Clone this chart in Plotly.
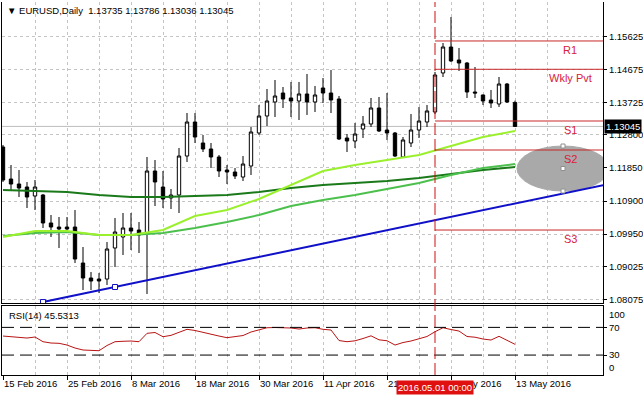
import plotly.graph_objects as go

# ---------------- data ----------------
tick_idx = [0, 8, 16, 24, 32, 40, 48, 56, 64]
tick_text = ["15 Feb 2016", "25 Feb 2016", "8 Mar 2016", "18 Mar 2016", "30 Mar 2016",
             "11 Apr 2016", "21 Apr 2016", "3 May 2016", "13 May 2016"]

open_ = [1.12453, 1.11533, 1.11389, 1.11303, 1.11044, 1.11073, 1.10268, 1.10152, 1.10152, 1.10152,
         1.09117, 1.08686, 1.08657, 1.08657, 1.09549, 1.09865, 1.10124, 1.10066, 1.09980, 1.11763,
         1.11303, 1.10987, 1.11073, 1.12194, 1.13172, 1.12568, 1.12396, 1.12166, 1.11792, 1.11734,
         1.11590, 1.11907, 1.12856, 1.13345, 1.13747, 1.14006, 1.13863, 1.13776, 1.13978, 1.13747,
         1.14150, 1.14006, 1.13834, 1.12712, 1.12626, 1.12971, 1.13115, 1.13575, 1.12942, 1.12856,
         1.12166, 1.12568, 1.12942, 1.13172, 1.13460, 1.14582, 1.15329, 1.14955, 1.14869, 1.14035,
         1.13949, 1.13805, 1.13690, 1.14265, 1.13735]
high = [1.12511, 1.11936, 1.11792, 1.11447, 1.11504, 1.11100, 1.10498, 1.10440, 1.10440, 1.10641,
        1.09577, 1.08858, 1.08830, 1.09721, 1.10411, 1.10555, 1.10555, 1.10296, 1.12166, 1.12079,
        1.11763, 1.11245, 1.12425, 1.13431, 1.13431, 1.12798, 1.12568, 1.12223, 1.11936, 1.11849,
        1.12194, 1.13028, 1.13661, 1.14121, 1.14380, 1.14179, 1.14323, 1.14323, 1.14553, 1.14208,
        1.14438, 1.14668, 1.13920, 1.12827, 1.13144, 1.13345, 1.13863, 1.13891, 1.14006, 1.12885,
        1.12741, 1.13402, 1.13604, 1.13661, 1.14610, 1.15444, 1.16192, 1.15301, 1.14898, 1.14754,
        1.13960, 1.14093, 1.14466, 1.14294, 1.13786]
low = [1.11447, 1.11217, 1.11015, 1.10699, 1.10641, 1.10124, 1.09865, 1.09549, 1.09980, 1.09117,
       1.08341, 1.08341, 1.08254, 1.08484, 1.09002, 1.09347, 1.09491, 1.09405, 1.08226, 1.10756,
       1.10699, 1.10670, 1.10555, 1.12022, 1.12568, 1.12309, 1.11849, 1.11590, 1.11389, 1.11533,
       1.11475, 1.11648, 1.12798, 1.13057, 1.13316, 1.13575, 1.13316, 1.13230, 1.13374, 1.13460,
       1.13719, 1.13431, 1.12655, 1.12309, 1.12425, 1.12712, 1.13028, 1.12885, 1.12655, 1.12166,
       1.12137, 1.12453, 1.12712, 1.13028, 1.13402, 1.14466, 1.14898, 1.14639, 1.13863, 1.13863,
       1.13661, 1.13575, 1.13604, 1.13719, 1.13036]
close = [1.11504, 1.11389, 1.11274, 1.11015, 1.11303, 1.10268, 1.10152, 1.10095, 1.10095, 1.09232,
         1.08686, 1.08599, 1.08599, 1.09520, 1.10009, 1.10124, 1.10037, 1.09922, 1.11763, 1.11447,
         1.10958, 1.11073, 1.12194, 1.13172, 1.12741, 1.12396, 1.12166, 1.11763, 1.11734, 1.11619,
         1.11964, 1.12885, 1.13345, 1.13776, 1.13920, 1.13834, 1.13776, 1.13978, 1.13747, 1.13949,
         1.14006, 1.13805, 1.12683, 1.12626, 1.12827, 1.13115, 1.13575, 1.12913, 1.12856, 1.12194,
         1.12655, 1.12942, 1.13201, 1.13489, 1.14524, 1.15329, 1.14927, 1.14869, 1.14035, 1.14006,
         1.13776, 1.13719, 1.14265, 1.13747, 1.13045]

ma_idx = [0, 4, 8, 12, 16, 20, 24, 28, 32, 36, 40, 44, 48, 52, 56, 60, 64]
ma_fast = [1.09865, 1.10037, 1.10037, 1.09922, 1.09922, 1.10066, 1.10469, 1.10641, 1.10958,
           1.11360, 1.11763, 1.11936, 1.12079, 1.12223, 1.12482, 1.12741, 1.12913]
ma_mid = [1.09894, 1.09980, 1.10009, 1.09922, 1.09922, 1.09980, 1.10124, 1.10296, 1.10498,
          1.10756, 1.10929, 1.11073, 1.11245, 1.11418, 1.11648, 1.11849, 1.11964]
ma_slow = [1.11217, 1.11188, 1.11159, 1.11073, 1.11015, 1.11015, 1.11044, 1.11073, 1.11159,
           1.11274, 1.11360, 1.11418, 1.11475, 1.11562, 1.11677, 1.11792, 1.11878]

rsi = [57.5, 56.8, 56.1, 54.6, 56.1, 49.3, 47.4, 47.0, 44.5, 40.2,
       37.3, 36.8, 36.3, 43.8, 49.3, 49.9, 50.3, 49.3, 61.4, 62.6,
       56.5, 58.5, 63.3, 67.2, 65.5, 62.6, 59.7, 57.5, 55.1, 56.8,
       58.2, 63.3, 66.9, 69.5, 69.8, 69.5, 69.1, 67.6, 69.1, 69.5,
       67.2, 66.2, 51.0, 49.3, 50.6, 53.9, 57.8, 52.0, 50.7, 44.5,
       48.1, 50.3, 53.6, 56.8, 63.7, 69.5, 66.9, 64.7, 56.8, 55.8,
       53.2, 51.7, 57.1, 51.7, 45.5313]
rsi_levels = [70, 30]
rsi_top_label = "100"
rsi_bottom_label = "0"

pivot_names = ["R1", "Wkly Pvt", "S1", "S2", "S3"]
pivot_levels = [1.15502, 1.14688, 1.13201, 1.12367, 1.10066]

trend_idx = [5, 14]
trend_price = [1.07995, 1.08427]

vline_idx = 54
vline_label = "2016.05.01 00:00"
ellipse_x = [64.25, 75.75]
ellipse_y = [1.11188, 1.12482]

price_ticks = [1.15625, 1.14675, 1.13725, 1.12800, 1.11850, 1.10900, 1.09950, 1.09025, 1.08075]
price_text = ["1.15625", "1.14675", "1.13725", "1.12800", "1.11850", "1.10900", "1.09950", "1.09025", "1.08075"]
last_price = 1.13045
last_price_text = "1.13045"
title = "▼ EURUSD,Daily  1.13735 1.13786 1.13036 1.13045"
rsi_title = "RSI(14) 45.5313"

# ---------------- figure ----------------
X_RANGE = [-0.125, 75]
RSI_RANGE = [1.2, 100.9]
FONT = "Liberation Sans"
TICKFONT = dict(family=FONT, size=9.5, color="black")
idx = list(range(len(close)))
minor_idx = [v for v in range(4, 76, 8)]
RSI_DOMAIN = [0, 0.185]

fig = go.Figure()

fig.add_trace(go.Candlestick(
    x=idx, open=open_, high=high, low=low, close=close,
    increasing=dict(fillcolor="white", line=dict(color="black", width=1)),
    decreasing=dict(fillcolor="black", line=dict(color="black", width=1)),
    whiskerwidth=0, xaxis="x", yaxis="y", showlegend=False, hoverinfo="skip"))

for vals, col in [(ma_slow, "#1A7A1A"), (ma_mid, "#4CC04C"), (ma_fast, "#9BF02E")]:
    fig.add_trace(go.Scatter(x=ma_idx, y=vals, mode="lines", line=dict(color=col, width=2),
                             xaxis="x", yaxis="y", showlegend=False, hoverinfo="skip"))

slope = (trend_price[1] - trend_price[0]) / (trend_idx[1] - trend_idx[0])
ray_end = X_RANGE[1] + 1
fig.add_trace(go.Scatter(x=[trend_idx[0], ray_end],
                         y=[trend_price[0], trend_price[0] + slope * (ray_end - trend_idx[0])],
                         mode="lines", line=dict(color="#1010C8", width=2),
                         xaxis="x", yaxis="y", showlegend=False, hoverinfo="skip"))
fig.add_trace(go.Scatter(x=trend_idx, y=trend_price, mode="markers",
                         marker=dict(symbol="square", size=5, color="white",
                                     line=dict(color="#1010C8", width=1)),
                         xaxis="x", yaxis="y", showlegend=False, hoverinfo="skip"))

ecx = (ellipse_x[0] + ellipse_x[1]) / 2
fig.add_trace(go.Scatter(x=[ecx, ecx, ecx],
                         y=[ellipse_y[1], (ellipse_y[0] + ellipse_y[1]) / 2, ellipse_y[0]],
                         mode="markers",
                         marker=dict(symbol="square", size=4, color="white",
                                     line=dict(color="#909090", width=1)),
                         xaxis="x", yaxis="y", showlegend=False, hoverinfo="skip"))

fig.add_trace(go.Scatter(x=idx, y=rsi, mode="lines", line=dict(color="#B81414", width=1),
                         xaxis="x2", yaxis="y2", showlegend=False, hoverinfo="skip"))

shapes = []
shapes.append(dict(type="line", xref="x", yref="y", x0=X_RANGE[0], x1=X_RANGE[1],
                   y0=last_price, y1=last_price, line=dict(color="#BEBEBE", width=1), layer="between"))
shapes.append(dict(type="circle", xref="x", yref="y", x0=ellipse_x[0], x1=ellipse_x[1],
                   y0=ellipse_y[0], y1=ellipse_y[1], fillcolor="#A9A9A9",
                   line=dict(color="#A9A9A9", width=1), layer="between"))
for lvl in pivot_levels:
    shapes.append(dict(type="line", xref="x", yref="y", x0=vline_idx, x1=X_RANGE[1],
                       y0=lvl, y1=lvl, line=dict(color="#C82828", width=1)))
for lvl in rsi_levels:
    shapes.append(dict(type="line", xref="x2", yref="y2", x0=X_RANGE[0], x1=X_RANGE[1],
                       y0=lvl, y1=lvl, line=dict(color="black", width=1, dash="12px,6px")))
shapes.append(dict(type="line", xref="x", yref="paper", x0=vline_idx, x1=vline_idx,
                   y0=0, y1=1, line=dict(color="#CC1010", width=1, dash="12px,4px")))

annotations = []
for name, lvl in zip(pivot_names, pivot_levels):
    annotations.append(dict(x=70.9, y=lvl, xref="x", yref="y", text=name, showarrow=False,
                            xanchor="center", yanchor="top", yshift=-1,
                            font=dict(family=FONT, size=11, color="#D8203A")))
annotations.append(dict(x=0.005, y=1, xref="paper", yref="paper", text=title, showarrow=False,
                        xanchor="left", yanchor="top", yshift=-1,
                        font=dict(family=FONT, size=9.5, color="black")))
annotations.append(dict(x=0.008, y=RSI_DOMAIN[1], xref="paper", yref="paper", text=rsi_title,
                        showarrow=False, xanchor="left", yanchor="top", yshift=-2,
                        font=dict(family=FONT, size=9.5, color="black")))
annotations.append(dict(x=1, y=last_price, xref="paper", yref="y", text=last_price_text,
                        showarrow=False, xanchor="left", yanchor="middle", xshift=1,
                        bgcolor="black", borderpad=1,
                        font=dict(family=FONT, size=9.5, color="white")))
# RSI scale end labels: "100" hangs just under the panel top, "0" sits on its bottom
annotations.append(dict(x=1, y=RSI_DOMAIN[1], xref="paper", yref="paper", text=rsi_top_label,
                        showarrow=False, xanchor="left", yanchor="top", xshift=4, yshift=-1,
                        bgcolor="white", font=dict(family=FONT, size=9.5, color="black")))
annotations.append(dict(x=1, y=RSI_DOMAIN[0], xref="paper", yref="paper", text=rsi_bottom_label,
                        showarrow=False, xanchor="left", yanchor="bottom", xshift=4,
                        font=dict(family=FONT, size=9.5, color="black")))
annotations.append(dict(x=vline_idx, y=0, xref="x2", yref="paper", text=vline_label, showarrow=False,
                        xanchor="center", yanchor="top", yshift=-5, bgcolor="#E01010", borderpad=1,
                        font=dict(family=FONT, size=9.5, color="white")))

grid = dict(showgrid=True, gridcolor="#C4C4C4", griddash="3px,3px", gridwidth=1)

fig.update_layout(
    width=643, height=397,
    margin=dict(l=2, r=40, t=2, b=22, autoexpand=False),
    paper_bgcolor="white", plot_bgcolor="white",
    boxgap=0.4,
    shapes=shapes, annotations=annotations,
    xaxis=dict(range=X_RANGE, domain=[0, 1], anchor="y", tickmode="array", tickvals=tick_idx,
               showticklabels=False, ticks="", zeroline=False,
               showline=True, linecolor="black", linewidth=1,
               rangeslider=dict(visible=False),
               minor=dict(tickmode="array", tickvals=minor_idx, ticks="", **grid), **grid),
    yaxis=dict(domain=[0.193, 1], range=[1.07967, 1.16623], side="right", anchor="x",
               tickmode="array", tickvals=price_ticks, ticktext=price_text,
               ticks="outside", ticklen=3, tickcolor="black", zeroline=False,
               showline=True, mirror=True, linecolor="black", linewidth=1,
               tickfont=TICKFONT, **grid),
    xaxis2=dict(range=X_RANGE, domain=[0, 1], anchor="y2", tickmode="array", tickvals=tick_idx,
                ticktext=tick_text, ticks="outside", ticklen=4, tickcolor="black",
                ticklabelposition="outside right", zeroline=False,
                showline=True, mirror=True, linecolor="black", linewidth=1,
                tickfont=TICKFONT,
                minor=dict(tickmode="array", tickvals=minor_idx, ticks="", **grid), **grid),
    yaxis2=dict(domain=RSI_DOMAIN, range=RSI_RANGE, side="right", anchor="x2",
                tickmode="array", tickvals=rsi_levels, ticktext=[str(v) for v in rsi_levels],
                ticks="outside", ticklen=3, tickcolor="black", showgrid=False, zeroline=False,
                showline=True, mirror=True, linecolor="black", linewidth=1,
                tickfont=TICKFONT),
)

fig.write_html("out.html", config={"displayModeBar": False},
               post_script="document.body.style.margin='0';document.body.style.overflow='hidden';")
